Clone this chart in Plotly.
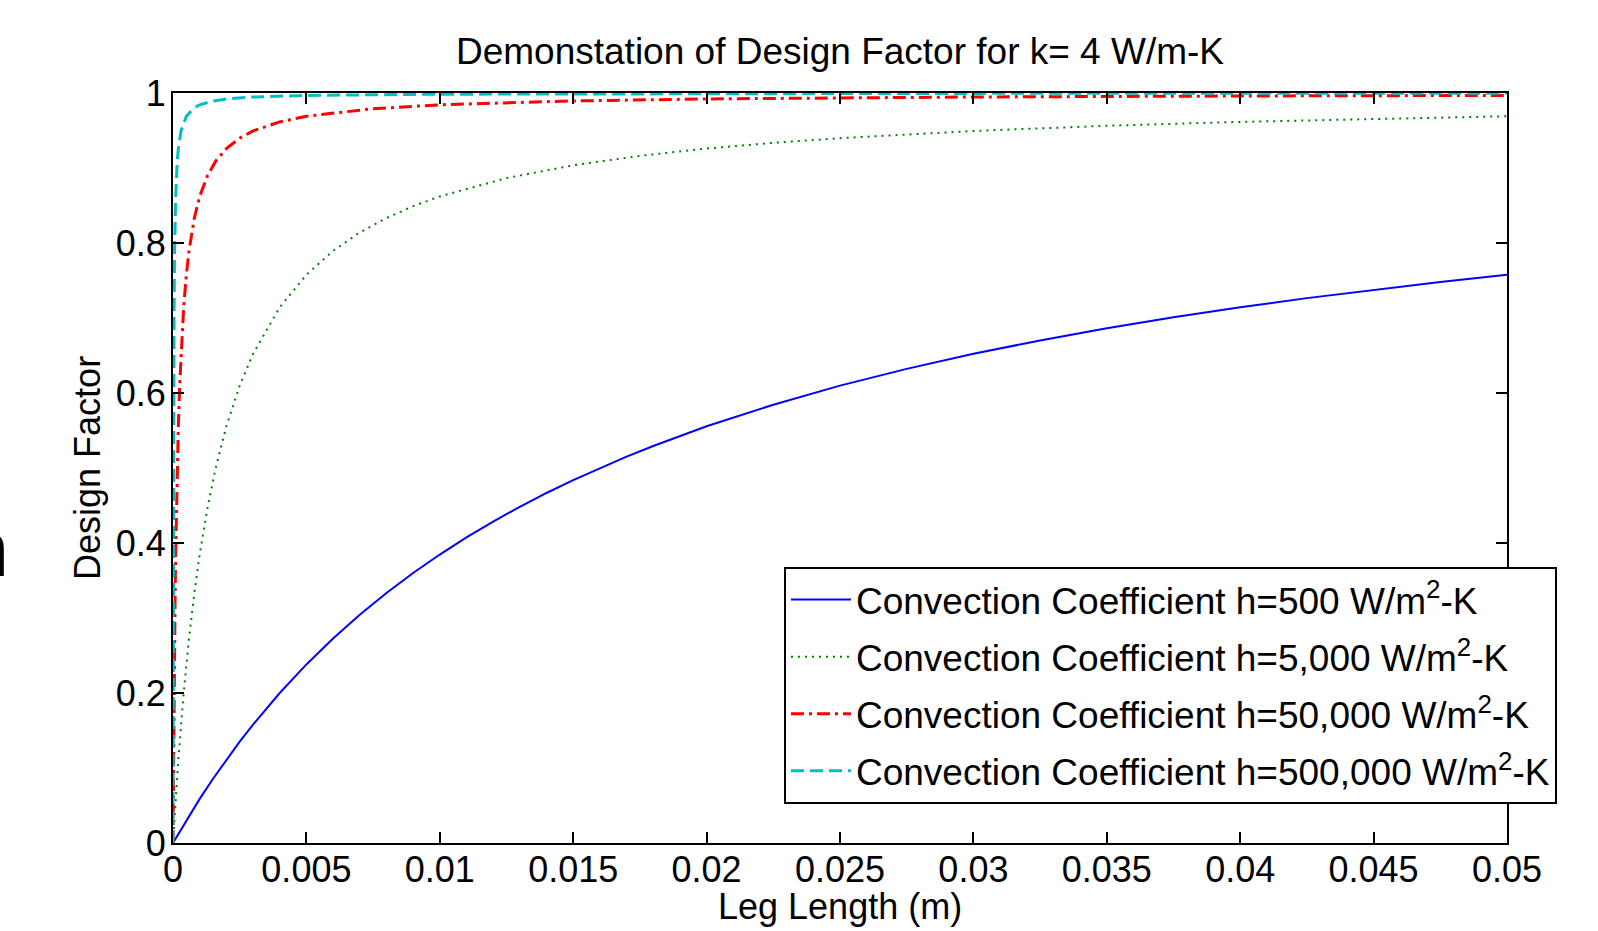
import plotly.graph_objects as go

# Leg length (m) and design factor values
x_h500 = [0, 0.0005, 0.001, 0.0015, 0.002, 0.0025, 0.003, 0.004, 0.005, 0.006, 0.007, 0.008,
          0.009, 0.01, 0.011, 0.012, 0.013, 0.014, 0.015, 0.016, 0.017, 0.018, 0.019, 0.02,
          0.0225, 0.025, 0.0275, 0.03, 0.0325, 0.035, 0.0375, 0.04, 0.0425, 0.045, 0.0475, 0.05]
y_h500 = [0, 0.0303, 0.0588, 0.0857, 0.1111, 0.1351, 0.1579, 0.2, 0.2381, 0.2727, 0.3043, 0.3333,
          0.36, 0.3846, 0.4074, 0.4286, 0.4483, 0.4667, 0.4839, 0.5, 0.5152, 0.5294, 0.5429, 0.5556,
          0.5844, 0.6098, 0.6322, 0.6522, 0.6701, 0.6863, 0.7009, 0.7143, 0.7265, 0.7377, 0.748, 0.7576]

x_h5000 = [0, 0.0001, 0.0002, 0.0004, 0.0006, 0.0008, 0.001, 0.0013, 0.0016, 0.002, 0.0025,
           0.003, 0.004, 0.005, 0.006, 0.007, 0.008, 0.009, 0.01, 0.0125, 0.015, 0.0175, 0.02,
           0.0225, 0.025, 0.03, 0.035, 0.04, 0.045, 0.05]
y_h5000 = [0, 0.0588, 0.1111, 0.2, 0.2727, 0.3333, 0.3846, 0.4483, 0.5, 0.5556, 0.6098,
           0.6522, 0.7143, 0.7576, 0.7895, 0.814, 0.8333, 0.8491, 0.8621, 0.8865, 0.9036, 0.9162, 0.9259,
           0.9336, 0.9398, 0.9494, 0.9563, 0.9615, 0.9657, 0.969]

x_h50000 = [0, 0.00001, 0.00002, 0.00004, 0.00006, 0.00008, 0.0001, 0.00013, 0.00016, 0.0002,
            0.00025, 0.0003, 0.0004, 0.0005, 0.0006, 0.0008, 0.001, 0.0013, 0.0016, 0.002,
            0.0025, 0.003, 0.004, 0.005, 0.0075, 0.01, 0.015, 0.02, 0.03, 0.04, 0.05]
y_h50000 = [0, 0.0588, 0.1111, 0.2, 0.2727, 0.3333, 0.3846, 0.4483, 0.5, 0.5556,
            0.6098, 0.6522, 0.7143, 0.7576, 0.7895, 0.8333, 0.8621, 0.8904, 0.9091, 0.9259,
            0.9398, 0.9494, 0.9615, 0.969, 0.9791, 0.9843, 0.9894, 0.9921, 0.9947, 0.996, 0.9968]

x_h500000 = [0, 0.000001, 0.000002, 0.000004, 0.000006, 0.000008, 0.00001, 0.000016, 0.00002,
             0.00003, 0.00004, 0.00006, 0.00008, 0.0001, 0.00016, 0.0002, 0.0003, 0.0005,
             0.0008, 0.001, 0.0015, 0.002, 0.003, 0.005, 0.01, 0.02, 0.03, 0.04, 0.05]
y_h500000 = [0, 0.0588, 0.1111, 0.2, 0.2727, 0.3333, 0.3846, 0.5, 0.5556,
             0.6522, 0.7143, 0.7895, 0.8333, 0.8621, 0.9091, 0.9259, 0.9494, 0.969,
             0.9804, 0.9843, 0.9894, 0.9921, 0.9947, 0.9968, 0.9984, 0.9992, 0.9995, 0.9996, 0.9997]

series_names = [
    "Convection Coefficient h=500 W/m<sup>2</sup>-K",
    "Convection Coefficient h=5,000 W/m<sup>2</sup>-K",
    "Convection Coefficient h=50,000 W/m<sup>2</sup>-K",
    "Convection Coefficient h=500,000 W/m<sup>2</sup>-K",
]

x_tickvals = [0, 0.005, 0.01, 0.015, 0.02, 0.025, 0.03, 0.035, 0.04, 0.045, 0.05]
x_ticktext = ["0", "0.005", "0.01", "0.015", "0.02", "0.025", "0.03", "0.035", "0.04", "0.045", "0.05"]
y_tickvals = [0, 0.2, 0.4, 0.6, 0.8, 1]
y_ticktext = ["0", "0.2", "0.4", "0.6", "0.8", "1"]

FONT = "Liberation Sans, Arial, sans-serif"

styles = [
    dict(color="#0000FF", width=2, dash="solid"),
    dict(color="#008000", width=2, dash="2px,5px"),
    dict(color="#FF0000", width=3, dash="13px,5px,3px,5px"),
    dict(color="#00BFBF", width=3, dash="13px,6px"),
]
xs = [x_h500, x_h5000, x_h50000, x_h500000]
ys = [y_h500, y_h5000, y_h50000, y_h500000]

fig = go.Figure()
for i in range(4):
    fig.add_trace(go.Scatter(x=xs[i], y=ys[i], mode="lines", name=series_names[i],
                             line=styles[i], legendgroup=f"g{i}"))

fig.update_layout(
    width=1598, height=931,
    margin=dict(l=173, r=91, t=93, b=88),
    paper_bgcolor="white", plot_bgcolor="white",
    font=dict(family=FONT, size=36, color="black"),
    title=dict(text="Demonstation of Design Factor for k= 4 W/m-K", x=0.5, xref="paper",
               xanchor="center", y=0.9452, yref="container", yanchor="middle",
               font=dict(size=37)),
    xaxis=dict(range=[0, 0.05], tickvals=x_tickvals, ticktext=x_ticktext,
               showline=True, linecolor="black", linewidth=2, mirror="ticks",
               ticks="inside", ticklen=11, tickwidth=2, tickcolor="black",
               showgrid=False, zeroline=False, tickfont=dict(size=36),
               ticklabelstandoff=-6),
    yaxis=dict(range=[0, 1], tickvals=y_tickvals, ticktext=y_ticktext,
               showline=True, linecolor="black", linewidth=2, mirror="ticks",
               ticks="inside", ticklen=11, tickwidth=2, tickcolor="black",
               showgrid=False, zeroline=False, tickfont=dict(size=36),
               ticklabelstandoff=-2),
    legend=dict(x=0.458, y=0.368, xanchor="left", yanchor="top",
                bgcolor="white", bordercolor="black", borderwidth=2,
                font=dict(size=37), traceorder="grouped", tracegroupgap=6,
                itemwidth=60),
    showlegend=True,
    annotations=[
        dict(text="Leg Length (m)", x=0.5, y=-0.0853, xref="paper", yref="paper",
             xanchor="center", yanchor="middle", showarrow=False, font=dict(size=36)),
        dict(text="Design Factor", x=-0.0645, y=0.5, xref="paper", yref="paper",
             xanchor="center", yanchor="middle", textangle=-90, showarrow=False,
             font=dict(size=36)),
        dict(text="n", x=-0.1214, y=0.332, xref="paper", yref="paper",
             xanchor="right", yanchor="bottom", showarrow=False, font=dict(size=77)),
    ],
)

fig.write_html("out.html")
